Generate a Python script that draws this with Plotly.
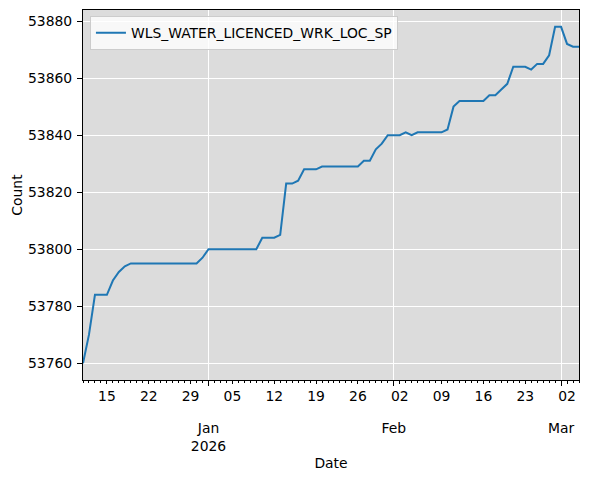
import pandas as pd
import plotly.graph_objects as go

start_date = "2025-12-11"
counts = [
    53760, 53770, 53784, 53784, 53784, 53789, 53792, 53794, 53795, 53795,
    53795, 53795, 53795, 53795, 53795, 53795, 53795, 53795, 53795, 53795,
    53797, 53800, 53800, 53800, 53800, 53800, 53800, 53800, 53800, 53800,
    53804, 53804, 53804, 53805, 53823, 53823, 53824, 53828, 53828, 53828,
    53829, 53829, 53829, 53829, 53829, 53829, 53829, 53831, 53831, 53835,
    53837, 53840, 53840, 53840, 53841, 53840, 53841, 53841, 53841, 53841,
    53841, 53842, 53850, 53852, 53852, 53852, 53852, 53852, 53854, 53854,
    53856, 53858, 53864, 53864, 53864, 53863, 53865, 53865, 53868, 53878,
    53878, 53872, 53871, 53871,
]
dates = pd.date_range(start_date, periods=len(counts), freq="D")
series_name = "WLS_WATER_LICENCED_WRK_LOC_SP"

month_ticks = ["2026-01-01", "2026-02-01", "2026-03-01"]
month_labels = ["Jan<br>2026", "Feb", "Mar"]
week_ticks = pd.date_range("2025-12-15", dates[-1], freq="7D")
week_labels = [d.strftime("%d") for d in week_ticks]
y_ticks = [53760, 53780, 53800, 53820, 53840, 53860, 53880]

font = "DejaVu Sans"
fs = 13.9
xr = [dates[0], dates[-1]]
ymin, ymax = min(counts), max(counts)
pad = (ymax - ymin) * 0.05

fig = go.Figure()
# carrier for the weekly-label axis (invisible)
fig.add_trace(go.Scatter(x=dates, y=counts, xaxis="x2", mode="lines",
                         line=dict(width=0, color="rgba(0,0,0,0)"), opacity=0,
                         showlegend=False, hoverinfo="skip"))
fig.add_trace(go.Scatter(x=dates, y=counts, mode="lines", name=series_name,
                         line=dict(color="#1f77b4", width=2), showlegend=True))

fig.update_layout(
    width=589, height=481,
    margin=dict(l=83, r=10, t=10, b=101),
    paper_bgcolor="white", plot_bgcolor="#dcdcdc",
    font=dict(family=font, size=fs, color="black"),
    showlegend=True,
    legend=dict(x=0.014, y=0.983, xanchor="left", yanchor="top",
                bgcolor="rgba(255,255,255,0.8)", bordercolor="#cccccc", borderwidth=1,
                font=dict(size=fs), itemwidth=30),
    xaxis=dict(type="date", range=xr, tickmode="array", tickvals=month_ticks,
               ticktext=month_labels, ticks="outside", ticklen=5, tickcolor="black",
               showgrid=True, gridcolor="white", gridwidth=1, zeroline=False,
               showline=True, linecolor="black", linewidth=1, mirror=True,
               ticklabelstandoff=30,
               minor=dict(ticks="outside", ticklen=2, tickcolor="black",
                          dtick=86400000, tick0=start_date, showgrid=False),
               title=dict(text="Date", standoff=5, font=dict(size=fs)),
               automargin=False),
    xaxis2=dict(type="date", range=xr, overlaying="x", side="bottom", anchor="y",
                tickmode="array", tickvals=list(week_ticks), ticktext=week_labels,
                ticks="outside", ticklen=3, tickcolor="black", showgrid=False,
                zeroline=False, showline=False, automargin=False),
    yaxis=dict(range=[ymin - pad, ymax + pad], tickmode="array", tickvals=y_ticks,
               tickformat="d", ticklabelstandoff=2,
               ticks="outside", ticklen=5, tickcolor="black", showgrid=True,
               gridcolor="white", gridwidth=1, zeroline=False,
               showline=True, linecolor="black", linewidth=1, mirror=True,
               title=dict(text="Count", standoff=2, font=dict(size=fs)), automargin=False),
)

fig.write_html("out.html", post_script="document.body.style.margin='0';",
               config={"displayModeBar": False})
